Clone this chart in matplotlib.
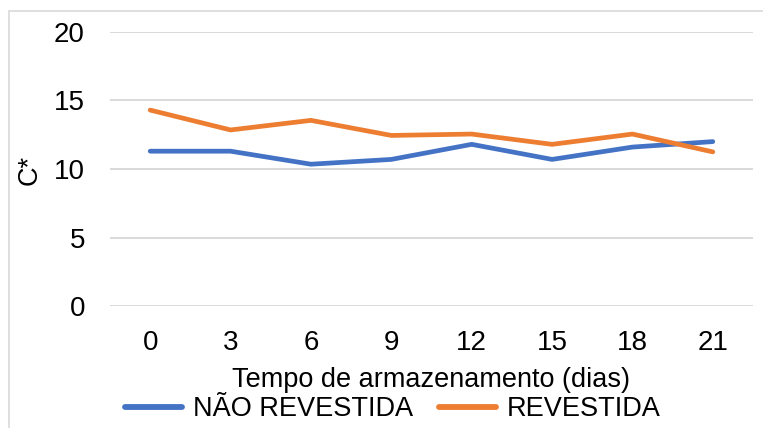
import matplotlib
matplotlib.use("Agg")
import matplotlib.pyplot as plt
from matplotlib.patches import Rectangle

plt.rcParams["font.family"] = ["Liberation Sans", "DejaVu Sans"]

# data
dias = ["0", "3", "6", "9", "12", "15", "18", "21"]
nao_revestida = [11.3, 11.3, 10.35, 10.7, 11.8, 10.7, 11.6, 12.0]
revestida = [14.3, 12.85, 13.55, 12.45, 12.55, 11.8, 12.55, 11.25]
y_ticks = [0, 5, 10, 15, 20]

BLUE = "#4472C4"
ORANGE = "#ED7D31"
GRID = "#D9D9D9"

W, H = 763, 428
AX_L, AX_R, AX_T, AX_B = 110, 753, 32, 306
fig = plt.figure(figsize=(W / 100, H / 100), dpi=100)
ax = fig.add_axes([AX_L / W, 1 - AX_B / H, (AX_R - AX_L) / W, (AX_B - AX_T) / H])

x = range(len(dias))
ax.plot(x, nao_revestida, color=BLUE, lw=3.4, solid_capstyle="round",
        solid_joinstyle="round", label="NÃO REVESTIDA")
ax.plot(x, revestida, color=ORANGE, lw=3.4, solid_capstyle="round",
        solid_joinstyle="round", label="REVESTIDA")

ax.set_xlim(-0.5, len(dias) - 0.5)
ax.set_ylim(0, 20)
ax.set_yticks(y_ticks)
ax.set_xticks(list(x))
ax.set_xticklabels(dias)
ax.yaxis.grid(True, color=GRID, lw=1.4)
ax.set_axisbelow(True)
for s in ax.spines.values():
    s.set_visible(False)
ax.tick_params(axis="y", length=0, pad=18, labelsize=20)
ax.tick_params(axis="x", length=0, pad=17, labelsize=20)

ax.set_xlabel("Tempo de armazenamento (dias)", fontsize=19.5)
ax.xaxis.label.set_va("center")
ax.xaxis.set_label_coords(0.5, (AX_B - 380) / (AX_B - AX_T))
ax.set_ylabel("C*", fontsize=19.5)
ax.yaxis.label.set_va("center")
ax.yaxis.label.set_ha("center")
ax.yaxis.set_label_coords((30 - AX_L) / (AX_R - AX_L), (AX_B - 170) / (AX_B - AX_T))

leg = fig.legend(loc="center", bbox_to_anchor=(393 / W, 1 - 409 / H), ncol=2,
                 frameon=False, fontsize=19.5, handlelength=2.1,
                 handletextpad=0.4, columnspacing=0.95, borderaxespad=0,
                 borderpad=0)
for line in leg.get_lines():
    line.set_linewidth(4.2)
    line.set_solid_capstyle("round")

# chart area border (cut off on the right and bottom in the reference)
fig.patches.append(Rectangle((9 / W, -0.1), 2, 1 - 11 / H + 0.1,
                             transform=fig.transFigure, fill=False,
                             edgecolor=GRID, lw=1.2))

fig.savefig("out.png", dpi=100)
